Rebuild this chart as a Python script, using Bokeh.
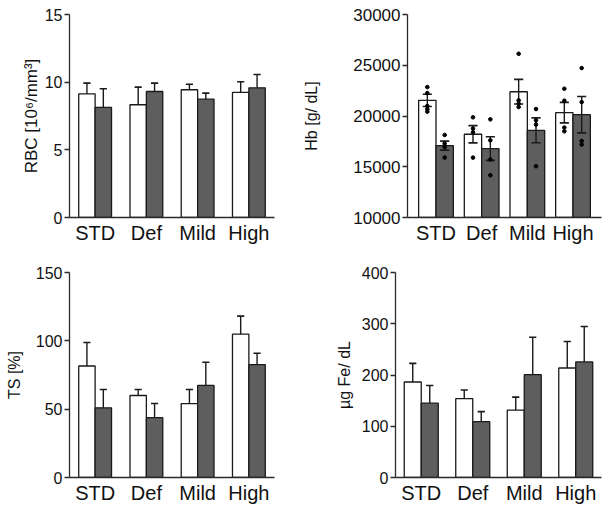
from bokeh.plotting import figure
from bokeh.models import FactorRange, Range1d, FixedTicker, ColumnDataSource
from bokeh.transform import dodge
from bokeh.layouts import column, row
from bokeh.embed import file_html
from bokeh.resources import INLINE

groups = ["STD", "Def", "Mild", "High"]

# RBC [10^6/mm^3]
rbc_ctrl = [9.14, 8.33, 9.44, 9.24]
rbc_ctrl_err = [0.79, 1.30, 0.41, 0.79]
rbc_trt = [8.13, 9.31, 8.74, 9.58]
rbc_trt_err = [1.38, 0.62, 0.45, 0.99]
rbc_ticks = [0, 5, 10, 15]

# Hb [g/ dL]
hb_ctrl = [21540, 18200, 22390, 20330]
hb_ctrl_err = [610, 850, 1215, 1010]
hb_trt = [17080, 16790, 18590, 20130]
hb_trt_err = [440, 1160, 1230, 1790]
hb_ctrl_pts = [[22850, 22260, 20980, 20660, 20430],
               [19870, 18760, 18390, 15900],
               [26130, 21540, 21210, 20880],
               [22690, 21510, 18860, 18490]]
hb_trt_pts = [[18130, 17280, 16950, 15900],
              [19670, 17600, 15710, 14160],
              [20690, 19570, 19150, 15050],
              [24720, 21370, 17540, 17180]]
hb_ticks = [10000, 15000, 20000, 25000, 30000]

# TS [%]
ts_ctrl = [81.6, 60.0, 54.1, 104.9]
ts_ctrl_err = [17.2, 4.4, 10.3, 13.2]
ts_trt = [51.0, 43.8, 67.4, 82.6]
ts_trt_err = [13.4, 10.3, 16.9, 8.3]
ts_ticks = [0, 50, 100, 150]

# µg Fe/ dL
fe_ctrl = [186.3, 154.0, 131.4, 213.7]
fe_ctrl_err = [36.4, 16.6, 25.5, 51.6]
fe_trt = [145.0, 109.0, 200.6, 225.5]
fe_trt_err = [34.6, 19.6, 73.1, 69.2]
fe_ticks = [0, 100, 200, 300, 400]

FONT = "Liberation Sans"
DARK = "#5e5e5e"
LINE = "#1a1a1a"


def panel(width, height, borders, ylabel, yticks, ctrl, ctrl_err, trt, trt_err,
          bar_w, pad, cap, label_standoff, cat_standoff, tick_font="16px",
          label_font="16px", two_sided=False, ctrl_pts=None, trt_pts=None):
    bl, br, bt, bb = borders
    p = figure(width=width, height=height,
               x_range=FactorRange(*groups, range_padding=pad, range_padding_units="percent"),
               y_range=Range1d(yticks[0], yticks[-1]),
               output_backend="svg", toolbar_location=None,
               min_border_left=bl, min_border_right=br,
               min_border_top=bt, min_border_bottom=bb)
    p.xgrid.grid_line_color = None
    p.ygrid.grid_line_color = None
    p.outline_line_color = None

    lo = [v - e for v, e in zip(ctrl, ctrl_err)]
    hi = [v + e for v, e in zip(ctrl, ctrl_err)]
    lo2 = [v - e for v, e in zip(trt, trt_err)]
    hi2 = [v + e for v, e in zip(trt, trt_err)]
    src = ColumnDataSource(dict(g=groups, c=ctrl, clo=lo, chi=hi, t=trt, tlo=lo2, thi=hi2))
    off = bar_w / 2
    base = yticks[0]
    p.vbar(x=dodge("g", -off, range=p.x_range), top="c", bottom=base, width=bar_w,
           source=src, fill_color="white", line_color=LINE, line_width=1.3)
    p.vbar(x=dodge("g", off, range=p.x_range), top="t", bottom=base, width=bar_w,
           source=src, fill_color=DARK, line_color=LINE, line_width=1.3)

    for sgn, ycol, locol, hicol in ((-1, "c", "clo", "chi"), (1, "t", "tlo", "thi")):
        o = sgn * off
        y0 = locol if two_sided else ycol
        p.segment(x0=dodge("g", o, range=p.x_range), y0=y0,
                  x1=dodge("g", o, range=p.x_range), y1=hicol,
                  source=src, line_color=LINE, line_width=1.4)
        p.segment(x0=dodge("g", o - cap / 2, range=p.x_range), y0=hicol,
                  x1=dodge("g", o + cap / 2, range=p.x_range), y1=hicol,
                  source=src, line_color=LINE, line_width=1.6)
        if two_sided:
            p.segment(x0=dodge("g", o - cap / 2, range=p.x_range), y0=locol,
                      x1=dodge("g", o + cap / 2, range=p.x_range), y1=locol,
                      source=src, line_color=LINE, line_width=1.6)

    if ctrl_pts is not None:
        for sgn, pts in ((-1, ctrl_pts), (1, trt_pts)):
            gx = [g for g, vals in zip(groups, pts) for _ in vals]
            gy = [v for vals in pts for v in vals]
            ps = ColumnDataSource(dict(g=gx, y=gy))
            p.scatter(x=dodge("g", sgn * off, range=p.x_range), y="y", source=ps,
                      size=3.6, fill_color="black", line_color="black", marker="circle")

    for ax in (p.xaxis[0], p.yaxis[0]):
        ax.axis_line_color = "#2a2a2a"
        ax.axis_line_width = 1.3
        ax.minor_tick_line_color = None
    xa = p.xaxis[0]
    xa.major_tick_line_color = None
    xa.major_tick_out = 0
    xa.major_tick_in = 0
    xa.major_label_text_font = FONT
    xa.major_label_text_font_size = "20px"
    xa.major_label_text_color = "#111111"
    xa.major_label_standoff = cat_standoff
    ya = p.yaxis[0]
    ya.ticker = FixedTicker(ticks=yticks)
    ya.major_tick_out = 5
    ya.major_tick_in = 0
    ya.major_tick_line_color = "#2a2a2a"
    ya.major_tick_line_width = 1.3
    ya.major_label_text_font = FONT
    ya.major_label_text_font_size = tick_font
    ya.major_label_text_color = "#111111"
    ya.major_label_standoff = 2
    ya.axis_label = ylabel
    ya.axis_label_text_font = FONT
    ya.axis_label_text_font_style = "normal"
    ya.axis_label_text_font_size = label_font
    ya.axis_label_text_color = "#111111"
    ya.axis_label_standoff = label_standoff
    return p


p1 = panel(300, 255, (69, 26, 14, 38), "RBC [10\u2076/mm\u00b3]", rbc_ticks,
           rbc_ctrl, rbc_ctrl_err, rbc_trt, rbc_trt_err,
           bar_w=0.32, pad=0.0, cap=0.14, label_standoff=1, cat_standoff=4,
           label_font="17px")
p2 = panel(306, 255, (95, 5, 14, 38), "Hb [g/ dL]", hb_ticks,
           hb_ctrl, hb_ctrl_err, hb_trt, hb_trt_err,
           bar_w=0.38, pad=0.062, cap=0.2, label_standoff=30, cat_standoff=4,
           tick_font="17px", two_sided=True, ctrl_pts=hb_ctrl_pts, trt_pts=hb_trt_pts)
p3 = panel(300, 254, (69, 26, 17, 32), "TS [%]", ts_ticks,
           ts_ctrl, ts_ctrl_err, ts_trt, ts_trt_err,
           bar_w=0.32, pad=0.0, cap=0.14, label_standoff=10, cat_standoff=4)
p4 = panel(306, 254, (95, 5, 17, 32), "\u00b5g Fe/ dL", fe_ticks,
           fe_ctrl, fe_ctrl_err, fe_trt, fe_trt_err,
           bar_w=0.33, pad=0.0, cap=0.14, label_standoff=6, cat_standoff=4)

layout = column(row(p1, p2), row(p3, p4))
open("out.html", "w").write(file_html(layout, INLINE))
